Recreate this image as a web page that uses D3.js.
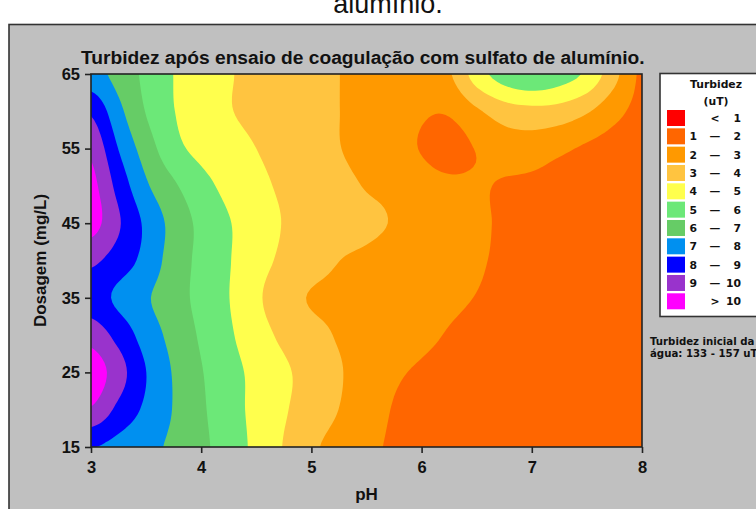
<!DOCTYPE html>
<html>
<head>
<meta charset="utf-8">
<script src="https://cdn.jsdelivr.net/npm/d3@7"></script>
<style>
  html, body { margin: 0; padding: 0; background: #fff; overflow: hidden; }
  svg { display: block; }
</style>
</head>
<body>
<svg id="chart" width="756" height="509"></svg>
<script>
// pH levels (columns) and coagulant dosage levels in mg/L (rows, top to bottom)
const phLevels = [3, 3.25, 3.5, 3.75, 4, 4.25, 4.5, 4.75, 5, 5.25, 5.5, 5.75, 6, 6.25, 6.5, 6.75, 7, 7.25, 7.5, 7.75, 8];
const dosageLevels = [65, 60, 55, 50, 45, 40, 35, 30, 25, 20, 15];

// Residual turbidity (uT) for each dosage, one value per pH level
const turb65 = [7.4, 6.65, 5.77, 4.99, 4.53, 4.07, 3.78, 3.52, 3.27, 3.01, 2.7, 2.5, 2.4, 2.9, 4.5, 5.5, 5.9, 5.5, 4.8, 3.3, 1.8];
const turb60 = [8.85, 7.28, 5.95, 5.03, 4.54, 4.06, 3.78, 3.52, 3.26, 3.01, 2.7, 2.45, 2.1, 2.1, 2.85, 3.5, 3.7, 3.6, 3.1, 2.3, 1.7];
const turb55 = [9.8, 7.97, 6.52, 5.32, 4.73, 4.36, 4.0, 3.68, 3.36, 3.03, 2.7, 2.35, 1.95, 1.6, 2.05, 2.45, 2.5, 2.2, 1.85, 1.6, 1.45];
const turb50 = [10.3, 8.65, 7.15, 6.15, 5.34, 4.72, 4.24, 3.85, 3.55, 3.25, 2.95, 2.76, 2.4, 2.2, 2.1, 1.92, 1.8, 1.6, 1.5, 1.45, 1.4];
const turb45 = [10.4, 9.11, 7.79, 6.66, 5.75, 5.06, 4.49, 3.96, 3.71, 3.45, 3.2, 2.94, 2.67, 2.41, 2.14, 1.9, 1.75, 1.6, 1.5, 1.4, 1.35];
const turb40 = [9.2, 8.53, 7.67, 6.54, 5.75, 5.06, 4.37, 3.81, 3.41, 3.01, 2.82, 2.63, 2.44, 2.26, 2.07, 1.9, 1.75, 1.6, 1.5, 1.4, 1.35];
const turb35 = [8.5, 7.79, 7.12, 6.42, 5.71, 5.02, 4.18, 3.42, 2.93, 2.78, 2.62, 2.46, 2.3, 2.14, 1.98, 1.85, 1.7, 1.6, 1.5, 1.4, 1.35];
const turb30 = [9.6, 8.66, 7.56, 6.68, 5.87, 5.15, 4.42, 3.79, 3.32, 2.92, 2.67, 2.43, 2.18, 1.95, 1.8, 1.7, 1.6, 1.5, 1.4, 1.3, 1.25];
const turb25 = [10.6, 9.43, 8.01, 6.92, 6.06, 5.36, 4.73, 4.16, 3.62, 3.08, 2.6, 2.13, 1.9, 1.75, 1.65, 1.55, 1.5, 1.45, 1.4, 1.3, 1.25];
const turb20 = [9.9, 8.74, 7.8, 6.95, 6.15, 5.41, 4.73, 4.1, 3.54, 2.99, 2.45, 1.95, 1.8, 1.7, 1.6, 1.55, 1.5, 1.45, 1.4, 1.3, 1.2];
const turb15 = [8.05, 7.69, 7.28, 6.81, 6.22, 5.52, 4.76, 3.95, 3.18, 2.66, 2.2, 1.9, 1.8, 1.7, 1.6, 1.5, 1.45, 1.4, 1.35, 1.3, 1.2];

// Contour class breaks and fills (<1, 1-2, ..., 9-10, >10)
const bandBreaks = [1, 2, 3, 4, 5, 6, 7, 8, 9, 10];
const bandColors = ["#ff0000", "#ff6600", "#ff9900", "#ffc440", "#ffff4d", "#6ce878",
                    "#66cc66", "#0090f0", "#0000ff", "#9933cc", "#ff00ff"];
const legendLow  = ["", "1", "2", "3", "4", "5", "6", "7", "8", "9", ""];
const legendSep  = ["<", "—", "—", "—", "—", "—", "—", "—", "—", "—", ">"];
const legendHigh = ["1", "2", "3", "4", "5", "6", "7", "8", "9", "10", "10"];

const xTicks = [3, 4, 5, 6, 7, 8];
const yTicks = [15, 25, 35, 45, 55, 65];

const turbidityRows = [turb65, turb60, turb55, turb50, turb45, turb40, turb35, turb30, turb25, turb20, turb15];

const svg = d3.select("#chart");
const W = 756, H = 509;
const plot = { left: 91, right: 642, top: 74, bottom: 447 };

const xScale = d3.scaleLinear().domain([3, 8]).range([plot.left, plot.right]);
const yScale = d3.scaleLinear().domain([15, 65]).range([plot.bottom, plot.top]);

// Page background and the grey chart panel
svg.append("rect").attr("width", W).attr("height", H).attr("fill", "#fff");
svg.append("text")
  .attr("x", 388).attr("y", 13)
  .attr("text-anchor", "middle")
  .style("font-family", "'Liberation Sans', Arial, sans-serif")
  .style("font-size", "27px")
  .attr("fill", "#111")
  .text("alumínio.");
svg.append("rect")
  .attr("x", 9).attr("y", 24.5).attr("width", 800).attr("height", 600)
  .attr("fill", "#c0c0c0").attr("stroke", "#333").attr("stroke-width", 1.6);

// Smooth the measured grid with Catmull-Rom splines before contouring
function catmull(p0, p1, p2, p3, t) {
  return 0.5 * (2 * p1 + (p2 - p0) * t + (2 * p0 - 5 * p1 + 4 * p2 - p3) * t * t
    + (3 * p1 - p0 - 3 * p2 + p3) * t * t * t);
}
function sampleLine(arr, u) {
  const last = arr.length - 1;
  const i = Math.min(Math.floor(u), last - 1), t = u - i;
  const g = k => arr[Math.max(0, Math.min(last, k))];
  return catmull(g(i - 1), g(i), g(i + 1), g(i + 2), t);
}
const factor = 8;
const nx = phLevels.length, ny = dosageLevels.length;
const NX = (nx - 1) * factor + 1, NY = (ny - 1) * factor + 1;
const rowsFine = turbidityRows.map(row => d3.range(NX).map(X => sampleLine(row, X / factor)));
const fine = new Array(NX * NY);
for (let X = 0; X < NX; X++) {
  const col = rowsFine.map(r => r[X]);
  for (let Y = 0; Y < NY; Y++) fine[Y * NX + X] = sampleLine(col, Y / factor);
}

// Grid coordinates -> data -> pixels
const gxToPh = d3.scaleLinear().domain([0.5, NX - 0.5]).range([3, 8]);
const gyToDose = d3.scaleLinear().domain([0.5, NY - 0.5]).range([65, 15]);
const projection = d3.geoTransform({
  point(x, y) { this.stream.point(xScale(gxToPh(x)), yScale(gyToDose(y))); }
});
const path = d3.geoPath(projection);

svg.append("clipPath").attr("id", "plotClip")
  .append("rect")
  .attr("x", plot.left).attr("y", plot.top)
  .attr("width", plot.right - plot.left).attr("height", plot.bottom - plot.top);

const field = svg.append("g").attr("clip-path", "url(#plotClip)");
field.append("rect")
  .attr("x", plot.left).attr("y", plot.top)
  .attr("width", plot.right - plot.left).attr("height", plot.bottom - plot.top)
  .attr("fill", bandColors[0]);

const contours = d3.contours().size([NX, NY]).thresholds(bandBreaks)(fine);
field.selectAll("path.band")
  .data(contours)
  .join("path")
  .attr("class", "band")
  .attr("d", path)
  .attr("fill", (d, i) => bandColors[i + 1]);

// Plot frame
svg.append("rect")
  .attr("x", plot.left).attr("y", plot.top)
  .attr("width", plot.right - plot.left).attr("height", plot.bottom - plot.top)
  .attr("fill", "none").attr("stroke", "#222").attr("stroke-width", 1.6);

// Axes
const axisFont = "'Liberation Sans', Arial, sans-serif";
const yAxis = svg.append("g")
  .attr("transform", `translate(${plot.left},0)`)
  .call(d3.axisLeft(yScale).tickValues(yTicks).tickFormat(d3.format("d"))
    .tickSize(6).tickSizeOuter(0).tickPadding(5));
const xAxis = svg.append("g")
  .attr("transform", `translate(0,${plot.bottom})`)
  .call(d3.axisBottom(xScale).tickValues(xTicks).tickFormat(d3.format("d"))
    .tickSize(6).tickSizeOuter(0).tickPadding(8));
[xAxis, yAxis].forEach(ax => {
  ax.select(".domain").remove();
  ax.selectAll(".tick line").attr("stroke", "#222").attr("stroke-width", 1.6);
  ax.selectAll(".tick text")
    .attr("fill", "#111")
    .style("font-family", axisFont)
    .style("font-size", "16.5px")
    .style("font-weight", "bold");
});

svg.append("text")
  .attr("x", (plot.left + plot.right) / 2).attr("y", 500)
  .attr("text-anchor", "middle")
  .style("font-family", axisFont).style("font-size", "17px").style("font-weight", "bold")
  .attr("fill", "#111")
  .text("pH");
svg.append("text")
  .attr("transform", `translate(46,${(plot.top + plot.bottom) / 2}) rotate(-90)`)
  .attr("text-anchor", "middle")
  .style("font-family", axisFont).style("font-size", "17px").style("font-weight", "bold")
  .attr("fill", "#111")
  .text("Dosagem (mg/L)");

svg.append("text")
  .attr("x", 81).attr("y", 64)
  .style("font-family", axisFont).style("font-size", "19.2px").style("font-weight", "bold")
  .attr("fill", "#111")
  .text("Turbidez após ensaio de coagulação com sulfato de alumínio.");

// Legend
const legFont = "'DejaVu Sans', Verdana, sans-serif";
const leg = svg.append("g");
leg.append("rect")
  .attr("x", 660).attr("y", 73.5).attr("width", 120).attr("height", 243)
  .attr("fill", "#fff").attr("stroke", "#333").attr("stroke-width", 1.6);
leg.append("text").attr("x", 716).attr("y", 88).attr("text-anchor", "middle")
  .style("font-family", legFont).style("font-size", "10.8px").style("font-weight", "bold")
  .attr("fill", "#111").text("Turbidez");
leg.append("text").attr("x", 716).attr("y", 105).attr("text-anchor", "middle")
  .style("font-family", legFont).style("font-size", "10.8px").style("font-weight", "bold")
  .attr("fill", "#111").text("(uT)");

const rowStep = 18.33;
const items = leg.selectAll("g.item")
  .data(bandColors)
  .join("g")
  .attr("class", "item")
  .attr("transform", (d, i) => `translate(0,${110 + i * rowStep})`);
items.append("rect")
  .attr("x", 667).attr("y", 0).attr("width", 18).attr("height", 16)
  .attr("fill", d => d);
const itemText = (sel, x, anchor, arr) => sel.append("text")
  .attr("x", x).attr("y", 12)
  .attr("text-anchor", anchor)
  .style("font-family", legFont).style("font-size", "10.8px").style("font-weight", "bold")
  .attr("fill", "#111")
  .text((d, i) => arr[i]);
itemText(items, 697, "end", legendLow);
itemText(items, 715, "middle", legendSep);
itemText(items, 741, "end", legendHigh);

// Note about the raw water, below the legend
const noteLines = ["Turbidez inicial da", "água: 133 - 157 uT"];
svg.selectAll("text.note")
  .data(noteLines)
  .join("text")
  .attr("class", "note")
  .attr("x", 650).attr("y", (d, i) => 345 + i * 12)
  .style("font-family", legFont).style("font-size", "10.2px").style("font-weight", "bold")
  .attr("fill", "#111")
  .text(d => d);
</script>
</body>
</html>
